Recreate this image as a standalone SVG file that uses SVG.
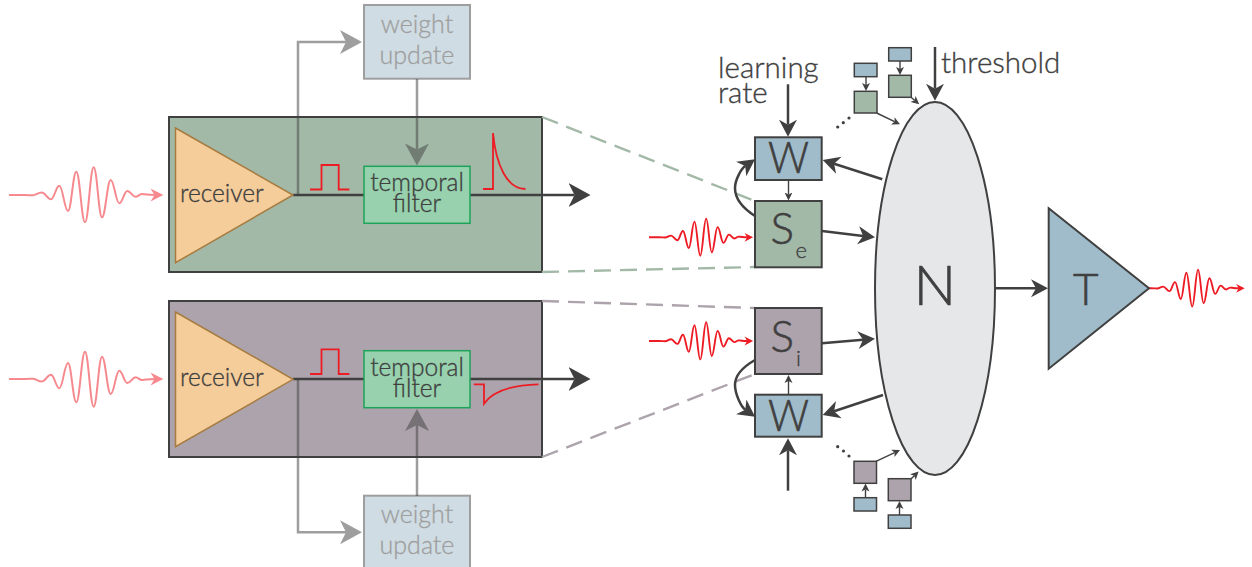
<svg xmlns="http://www.w3.org/2000/svg" xmlns:xlink="http://www.w3.org/1999/xlink" width="1252" height="567" viewBox="0 0 1252 567">
<style>
text{font-family:"Lato","Noto Sans","Liberation Sans",sans-serif;fill:#404040;stroke:#404040;stroke-width:0.35px;font-weight:300}
.m{text-anchor:middle}
.b{stroke:#404040;stroke-width:2}
.big{font-size:44px;text-anchor:middle;stroke-width:0.6px}
.sub{font-size:22px}
.lab{font-size:29.500px}
.t24{font-size:24.500px}
.wt{font-size:25px;text-anchor:middle}
.c{fill:none;stroke:#404040}
.cL{stroke-width:2.5;marker-end:url(#aL)}
.cM{stroke-width:2.5;marker-end:url(#aM)}
.cS{stroke-width:1.4;marker-end:url(#aS)}
.red{fill:none;stroke:#ed1c24;stroke-width:1.8}
.d{fill:none;stroke-width:2.4;stroke-dasharray:17 9}
.blue{fill:#a0bbc9}.green{fill:#a3b9a8}.purple{fill:#ada3ac}
.f{fill:#97d1ae;stroke:#1ea35a;stroke-width:1.5}
.rcv{fill:#f5cd9a;stroke:#a67c40;stroke-width:1.5}
.small{stroke:#404040;stroke-width:1.5}
</style>
<defs>
<marker id="aL" markerUnits="userSpaceOnUse" markerWidth="24" markerHeight="26" refX="6" refY="13" orient="auto"><path d="M0,1 L22,13 L0,25 L6,13Z" fill="#404040"/></marker>
<marker id="aM" markerUnits="userSpaceOnUse" markerWidth="19" markerHeight="20" refX="5" refY="10" orient="auto"><path d="M0,1 L17,10 L0,19 L5,10Z" fill="#404040"/></marker>
<marker id="aS" markerUnits="userSpaceOnUse" markerWidth="10" markerHeight="10" refX="2" refY="5" orient="auto"><path d="M0,1 L8,5 L0,9 L2,5Z" fill="#404040"/></marker>
<g id="wave">
<path fill="none" d="M0,0 L15,0 C19,0 21,0.3 24,0.3 C27,0.3 29.2,-2.5 32.7,-2.5 C36.4,-2.5 38.3,4.3 42,4.3 C45.3,4.3 47,-9.3 50.3,-9.3 C53.8,-9.3 55.5,16 59,16 C62.3,16 64,-23.3 67.3,-23.3 C70.8,-23.3 72.5,27.3 76,27.3 C79.5,27.3 81.2,-27.7 84.7,-27.7 C88,-27.7 89.7,22.3 93,22.3 C96.5,22.3 98.2,-15 101.7,-15 C105.2,-15 106.8,8.3 110.3,8.3 C113.5,8.3 115.1,-4 118.3,-4 C121.7,-4 123.3,1.7 126.7,1.7 C129,1.7 130.5,-1 132.7,-1 C135,-1 137,0 148,0"/>
<path stroke="none" fill="currentColor" d="M154.300,0 L141.500,-6.500 L145.500,0 L141.500,6.500Z"/>
</g>
</defs>

<g id="block-excitatory"><rect x="169" y="117" width="373" height="155" class="green b"/></g>
<g id="block-inhibitory"><rect x="169" y="301" width="373" height="156" class="purple b"/></g>

<g id="connectors">
<path d="M542,117 L755,201" class="d" stroke="#a3b9a8"/>
<path d="M542,272 L755,267" class="d" stroke="#a3b9a8"/>
<path d="M542,301 L755,308" class="d" stroke="#ada3ac"/>
<path d="M542,457 L755,374" class="d" stroke="#ada3ac"/>
<g opacity="0.5">
<path d="M298,195 V42 H346" class="c cL"/>
<path d="M417,79 V149.500" class="c cL"/>
<path d="M298,379 V532.300 H346" class="c cL"/>
<path d="M417,496 V425" class="c cL"/>
</g>
<path d="M293,195 H364 M470,195 H574.500" class="c cL"/>
<path d="M293,379 H364 M470,379 H574.500" class="c cL"/>
<use xlink:href="#wave" href="#wave" transform="translate(9,195)" stroke="#f6898e" color="#f6898e" stroke-width="2"/>
<use xlink:href="#wave" href="#wave" transform="translate(9,379) scale(1,-1)" stroke="#f6898e" color="#f6898e" stroke-width="2"/>
<use xlink:href="#wave" href="#wave" transform="translate(649,237.300) scale(0.675)" stroke="#ed1c24" color="#ed1c24" stroke-width="2.800"/>
<use xlink:href="#wave" href="#wave" transform="translate(649,341) scale(0.675)" stroke="#ed1c24" color="#ed1c24" stroke-width="2.800"/>
<use xlink:href="#wave" href="#wave" transform="translate(1141.300,288.300) scale(0.67)" stroke="#ed1c24" color="#ed1c24" stroke-width="2.800"/>
<path d="M788,84.300 V124.700" class="c cM"/>
<path d="M788,490.700 V450.300" class="c cM"/>
<path d="M935,47 V88.700" class="c cM"/>
<path d="M995,288.300 H1036" class="c cM"/>
<path d="M882.300,179.300 L834.100,163.700" class="c cM"/>
<path d="M822,231 L863.100,235.900" class="c cM"/>
<path d="M883,395 L834.100,411.200" class="c cM"/>
<path d="M822,343.300 L863,339.700" class="c cM"/>
<path d="M755,216 C741,207 735,197 735,188 C735,180 741.100,169 745.200,166.100" class="c cM"/>
<path d="M755,360 C741,368 735,376 735,385 C735,394 741.200,406.800 745.300,409.700" class="c cM"/>
<path d="M788.500,180 V194.500" class="c cS"/>
<path d="M788.500,394.700 V381" class="c cS"/>
<path d="M866,77 V85" class="c cS"/>
<path d="M900,61 V69" class="c cS"/>
<path d="M876.700,113 L894.600,121.700" class="c cS"/>
<path d="M911,97.300 L914.600,100.300" class="c cS"/>
<path d="M865.500,497.700 V489.500" class="c cS"/>
<path d="M899.500,515 V507" class="c cS"/>
<path d="M876,461.300 L894.600,452.600" class="c cS"/>
<path d="M911,479 L914.300,475.800" class="c cS"/>
</g>

<g id="weight-update-top" opacity="0.5"><rect x="364" y="5" width="106" height="73.700" class="blue b"/><text x="417" y="33" class="wt">weight</text><text x="417" y="64" class="wt">update</text></g>
<g id="weight-update-bottom" opacity="0.5"><rect x="364" y="495.700" width="106" height="73.700" class="blue b"/><text x="417" y="523" class="wt">weight</text><text x="417" y="554" class="wt">update</text></g>

<g id="receiver-top"><path d="M175.500,128 L293,195 L175.500,262.700Z" class="rcv"/><text x="180" y="201.500" class="t24">receiver</text></g>
<g id="filter-top"><rect x="364" y="166.300" width="106" height="57" class="f"/><text x="417" y="191" class="t24 m">temporal</text><text x="417" y="212" class="t24 m">filter</text></g>
<g id="pulse-top"><path d="M310,189.500 H321.500 V165 H338.700 V189.500 H349.400" class="red"/></g>
<g id="response-top"><path d="M483,189 H493 V133 C496,165 507,189 525.500,189" class="red"/></g>

<g id="receiver-bottom"><path d="M175.500,312 L293,379.300 L175.500,446.700Z" class="rcv"/><text x="180" y="386" class="t24">receiver</text></g>
<g id="filter-bottom"><rect x="364" y="350.700" width="106" height="57" class="f"/><text x="417" y="375.500" class="t24 m">temporal</text><text x="417" y="396.500" class="t24 m">filter</text></g>
<g id="pulse-bottom"><path d="M310,374 H321.500 V349.300 H338.700 V374 H349.400" class="red"/></g>
<g id="response-bottom"><path d="M473.800,384.300 H484 V403.700 C492,392 510,385 538.500,384.300" class="red"/></g>

<g id="W-top"><rect x="755" y="137.300" width="66.700" height="42.700" class="blue b"/><text x="788.500" y="173.300" class="big" textLength="41" lengthAdjust="spacingAndGlyphs">W</text></g>
<g id="S-e"><rect x="755" y="201" width="66.700" height="66.300" class="green b"/><text x="770.500" y="244" class="big" style="text-anchor:start">S</text><text x="795.500" y="258" class="sub">e</text></g>
<g id="S-i"><rect x="755" y="308" width="66.700" height="66" class="purple b"/><text x="770.500" y="352.300" class="big" style="text-anchor:start">S</text><text x="796" y="366" class="sub">i</text></g>
<g id="W-bottom"><rect x="755" y="394.700" width="66.700" height="42" class="blue b"/><text x="788.500" y="430.700" class="big" textLength="41" lengthAdjust="spacingAndGlyphs">W</text></g>

<g id="N"><ellipse cx="935" cy="288.500" rx="60" ry="186.500" fill="#e6e7e8" stroke="#404040" stroke-width="2"/><text x="935" y="305" style="font-size:56px;text-anchor:middle;stroke-width:0.7px">N</text></g>
<g id="T"><path d="M1048.700,208.300 L1149,288.300 L1048.700,368.700Z" class="blue b"/><text x="1085.700" y="305" class="big">T</text></g>

<g id="label-learning"><text x="718" y="78" class="lab">learning</text><text x="718" y="102.700" class="lab">rate</text></g>
<g id="label-threshold"><text x="941" y="73" class="lab">threshold</text></g>

<g id="mini-top-1"><rect x="854.300" y="63.300" width="22.700" height="13.400" class="blue small"/><rect x="854.300" y="91.300" width="22.700" height="21.700" class="green small"/></g>
<g id="mini-top-2"><rect x="888.700" y="47.700" width="22.600" height="13.300" class="blue small"/><rect x="888.700" y="75.300" width="22.600" height="22" class="green small"/></g>
<g id="mini-bottom-1"><rect x="854" y="461.300" width="22.500" height="22" class="purple small"/><rect x="854" y="497.700" width="22.500" height="13.300" class="blue small"/></g>
<g id="mini-bottom-2"><rect x="888.300" y="478.700" width="22.700" height="22" class="purple small"/><rect x="888.300" y="515" width="22.700" height="13.300" class="blue small"/></g>
<g id="dots-top" fill="#404040"><circle cx="837.700" cy="127" r="1.600"/><circle cx="843.300" cy="122.700" r="1.600"/><circle cx="849" cy="118" r="1.600"/></g>
<g id="dots-bottom" fill="#404040"><circle cx="837.700" cy="446.700" r="1.600"/><circle cx="843.500" cy="451" r="1.600"/><circle cx="849" cy="456" r="1.600"/></g>
</svg>
